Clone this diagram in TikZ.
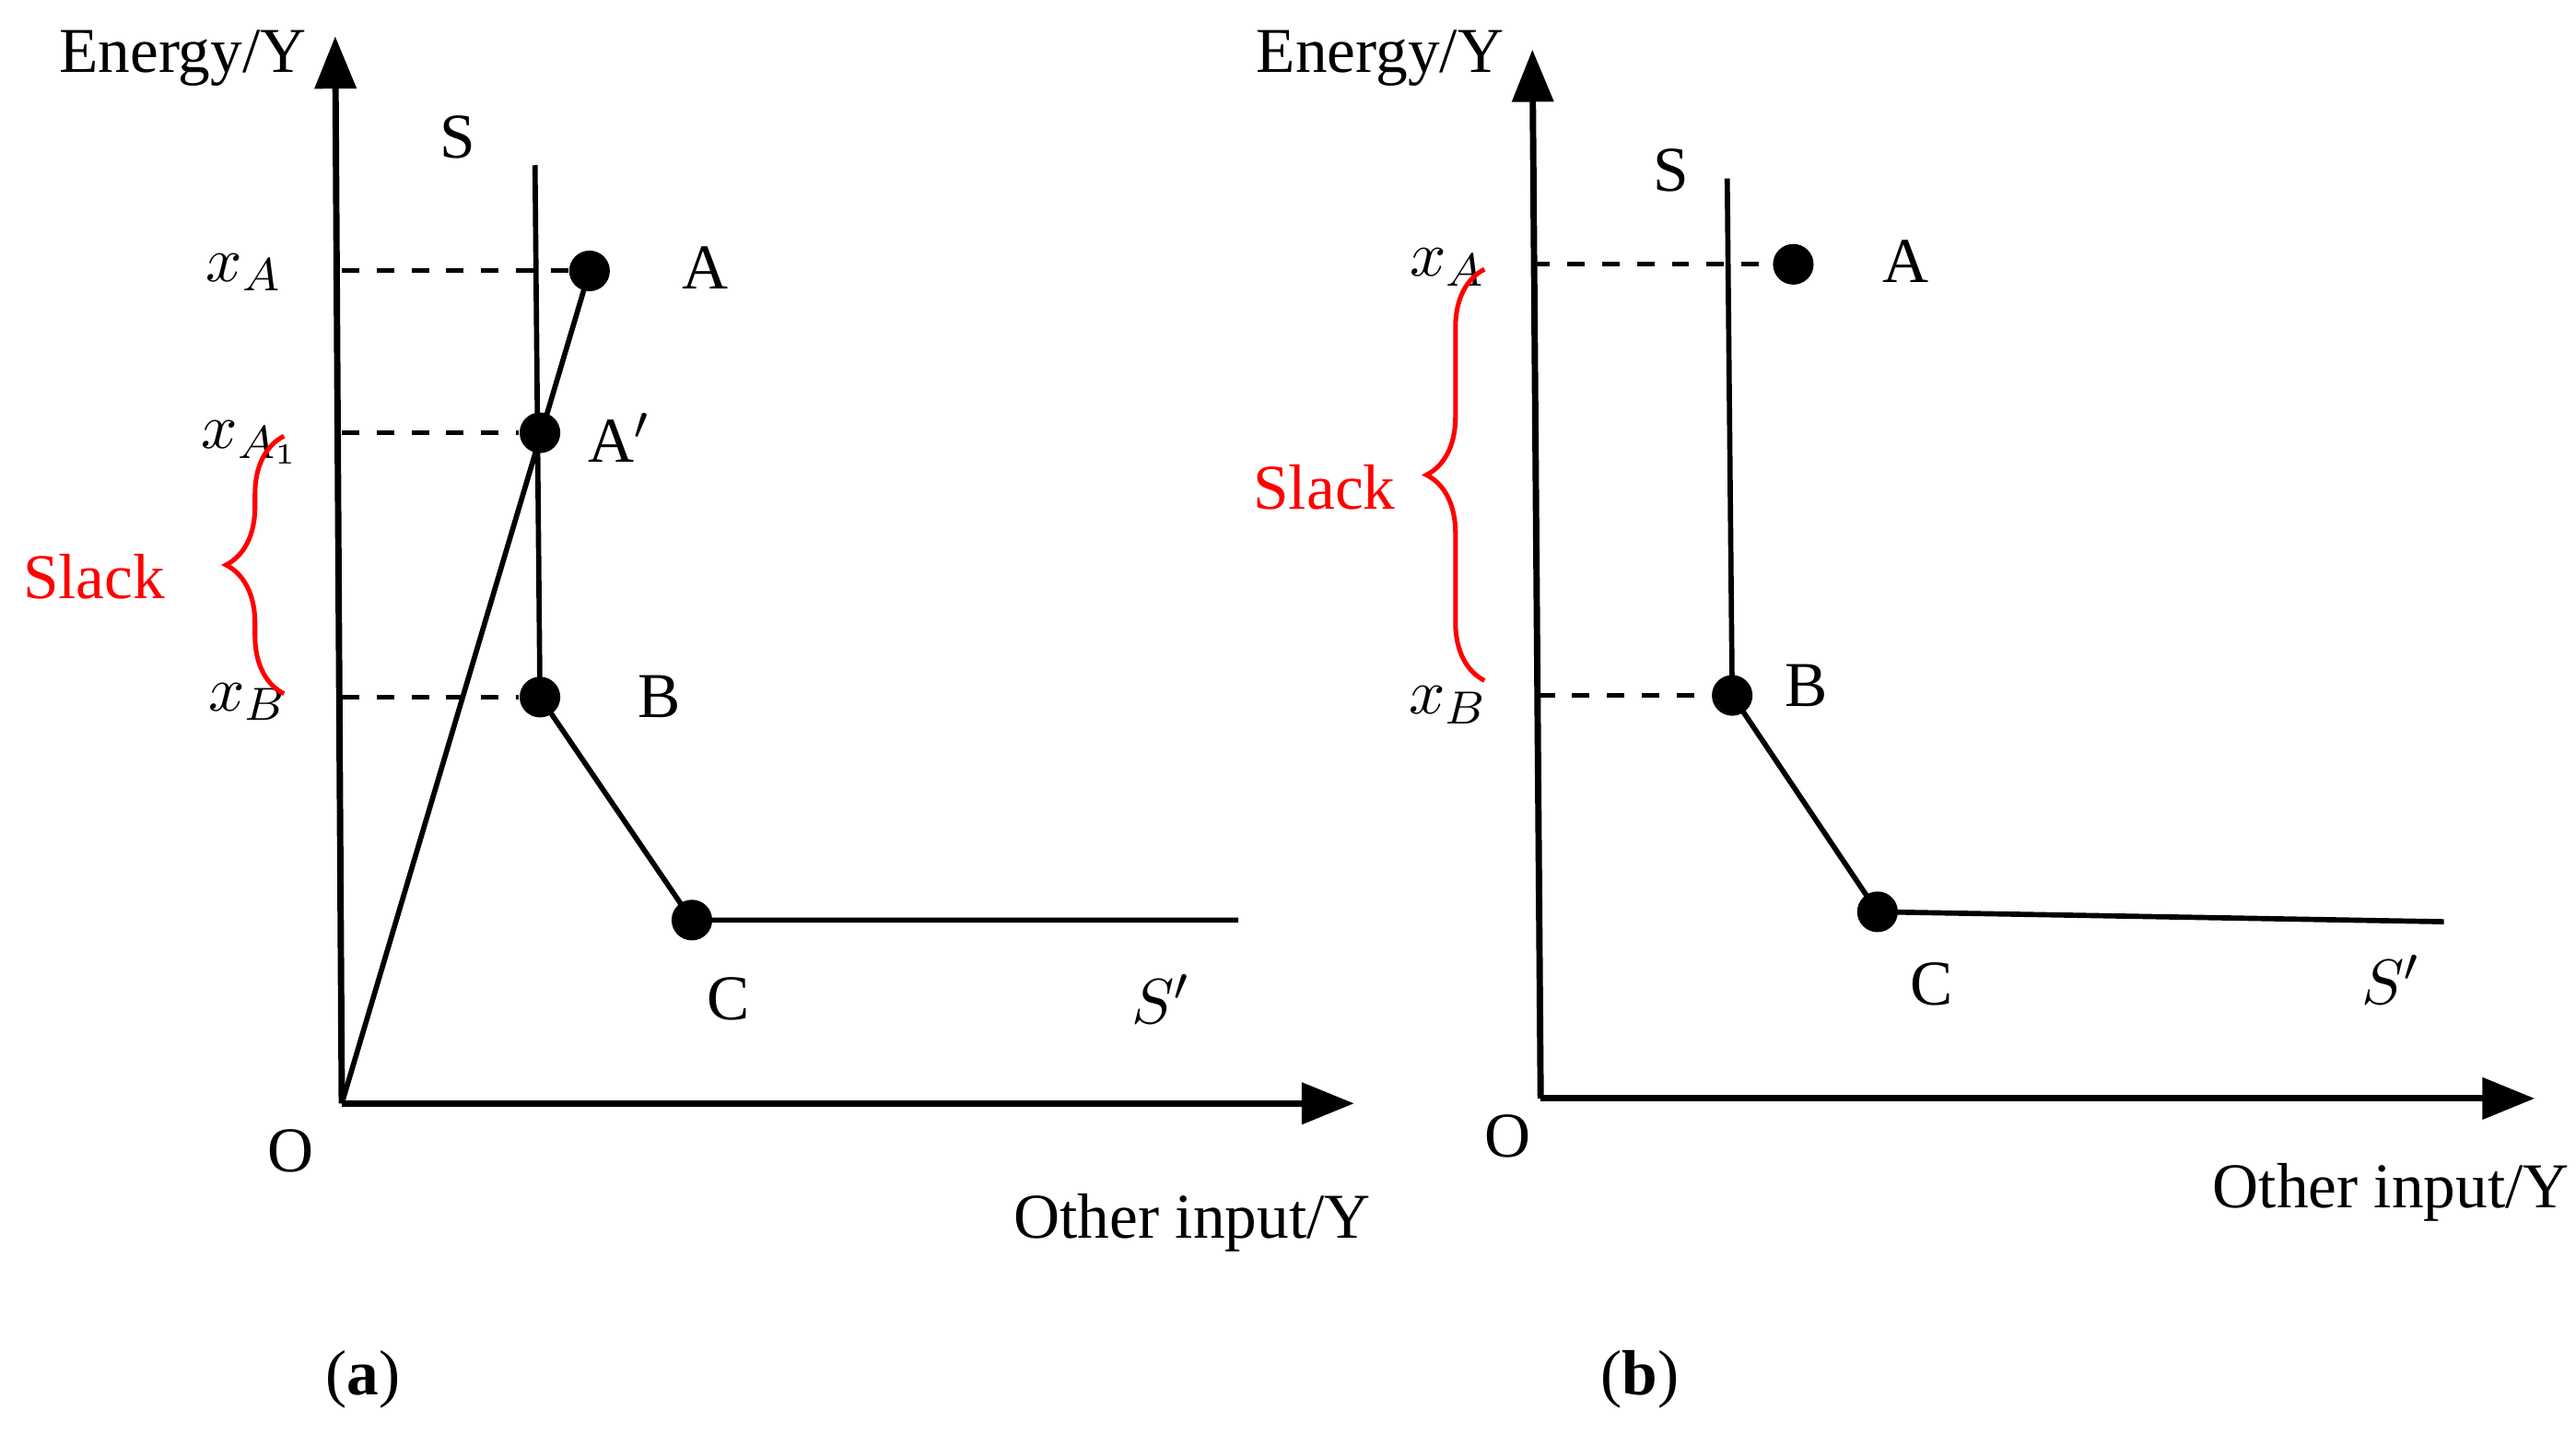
\documentclass[tikz,border=0pt]{standalone}
\usepackage{fontspec}
\setmainfont{Liberation Serif}
\usetikzlibrary{decorations.pathreplacing,arrows.meta}
\begin{document}
\begin{tikzpicture}[x=0.01cm,y=-0.01cm,
  ax/.style={line width=1.1pt,-{Triangle[length=9pt,width=7pt]}},
  ln/.style={line width=0.9pt},
  dsh/.style={dashed,line width=0.8pt},
  dot/.style={circle,fill=black,inner sep=0pt,minimum size=7pt},
  lab/.style={font=\fontsize{11pt}{13pt}\selectfont},
  br/.style={red,line width=0.8pt,decorate,decoration={brace,amplitude=10pt}}]
\useasboundingbox (0,0) rectangle (1560,875);
% panel a
\coordinate (Oa) at (207,668);
\coordinate (Ya) at (203,22);
\coordinate (Xa) at (820,668);
\draw[ax] (Oa) -- (Ya);
\draw[ax] (Oa) -- (Xa);
\node[lab] (oa) at (176,697) {O};
\node[lab,anchor=east] (ea) at (198,35) {Energy/Y};
\node[lab] (xa) at (722,740) {Other input/Y};
\node[lab] (sa) at (277,83) {S};
\coordinate (Sta) at (324,100);
\node[dot] (A) at (357,164) {};
\node[dot] (A1) at (327,262) {};
\node[dot] (B) at (327,422) {};
\node[dot] (C) at (419,557) {};
\coordinate (Ea) at (750,557);
\draw[ln] (Sta) -- (B.center) -- (C.center) -- (Ea);
\draw[ln] (Oa) -- (A.center);
\coordinate (dA) at (207,164);
\coordinate (dA1) at (207,262);
\coordinate (dB) at (207,422);
\draw[dsh] (dA) -- (A);
\draw[dsh] (dA1) -- (A1);
\draw[dsh] (dB) -- (B);
\node[lab] (la) at (427,162) {A};
\node[lab] (la1) at (375,265) {A$'$};
\node[lab] (lb) at (399,422) {B};
\node[lab] (lc) at (441,605) {C};
\node[lab] (ls) at (703,605) {$S'$};
\node[lab] (xA) at (148,165) {$x_A$};
\node[lab] (xA1) at (152,268) {$x_{A_1}$};
\node[lab] (xB) at (150,425) {$x_B$};
\coordinate (b1a) at (172,420);
\coordinate (b2a) at (172,264);
\draw[br] (b1a) -- (b2a);
\node[lab,red] (sl) at (57,349) {Slack};
\node[lab] (pa) at (220,835) {(\textbf{a})};
% panel b
\coordinate (Ob) at (933,665);
\coordinate (Yb) at (928,30);
\coordinate (Xb) at (1535,665);
\draw[ax] (Ob) -- (Yb);
\draw[ax] (Ob) -- (Xb);
\node[lab] (ob) at (913,688) {O};
\node[lab,anchor=east] (eb) at (923,35) {Energy/Y};
\node[lab] (xb) at (1448,722) {Other input/Y};
\node[lab] (sb) at (1012,103) {S};
\coordinate (Stb) at (1046,108);
\node[dot] (Ab) at (1086,160) {};
\node[dot] (Bb) at (1049,421) {};
\node[dot] (Cb) at (1137,552) {};
\coordinate (Eb) at (1480,558);
\draw[ln] (Stb) -- (Bb.center) -- (Cb.center) -- (Eb);
\coordinate (dAb) at (928,160);
\coordinate (dBb) at (931,421);
\draw[dsh] (dAb) -- (Ab);
\draw[dsh] (dBb) -- (Bb);
\node[lab] (lab2) at (1154,158) {A};
\node[lab] (lbb) at (1094,415) {B};
\node[lab] (lcb) at (1170,596) {C};
\node[lab] (lsb) at (1448,593) {$S'$};
\node[lab] (xAb) at (877,162) {$x_A$};
\node[lab] (xBb) at (877,427) {$x_B$};
\coordinate (b1b) at (899,412);
\coordinate (b2b) at (899,163);
\draw[br] (b1b) -- (b2b);
\node[lab,red] (slb) at (802,295) {Slack};
\node[lab] (pb) at (993,835) {(\textbf{b})};
\end{tikzpicture}
\end{document}
